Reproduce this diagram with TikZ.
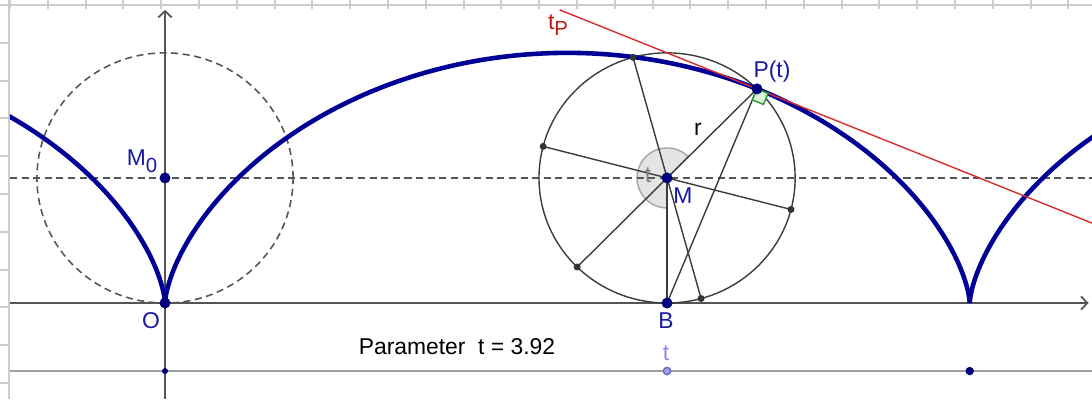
\documentclass[tikz,border=0pt]{standalone}
\usepackage{fontspec}
\setmainfont{Liberation Sans}
\usetikzlibrary{calc,arrows.meta}
\definecolor{framegray}{RGB}{205,205,205}
\definecolor{axisgray}{RGB}{85,85,85}
\definecolor{circgray}{RGB}{60,60,60}
\definecolor{curveblue}{RGB}{0,0,150}
\definecolor{ptblue}{RGB}{0,0,125}
\definecolor{lblblue}{RGB}{25,25,165}
\definecolor{tanred}{RGB}{215,45,45}
\definecolor{lblred}{RGB}{195,25,25}
\definecolor{secfill}{RGB}{228,228,228}
\definecolor{secdraw}{RGB}{165,165,165}
\definecolor{rafill}{RGB}{220,240,220}
\definecolor{radraw}{RGB}{40,150,40}
\definecolor{slidergray}{RGB}{160,160,160}
\definecolor{lavfill}{RGB}{160,160,225}
\definecolor{lavdraw}{RGB}{105,105,200}
\definecolor{lavtext}{RGB}{135,135,240}
\tikzset{
  frameline/.style={draw=framegray, line width=0.6pt},
  axisline/.style={draw=axisgray, line width=0.5pt, -{Straight Barb[length=1.8pt,width=3.8pt]}},
  dashline/.style={draw=axisgray, line width=0.45pt, dash pattern=on 2pt off 1.3pt},
  wheel/.style={draw=circgray, line width=0.4pt},
  curve/.style={draw=curveblue, line width=1.3pt, line join=round},
  tangent/.style={draw=tanred, line width=0.4pt},
  bluept/.style={fill=ptblue},
  spokept/.style={fill=circgray!85!black},
  lbl/.style={text=lblblue, inner sep=0pt},
  plain/.style={inner sep=0pt}
}
\begin{document}
\begin{tikzpicture}[x=0.01cm,y=-0.01cm,font=\fontsize{6.5}{7.8}\selectfont]
\useasboundingbox (0,0) rectangle (1092,399);
% frame rulers
\draw[frameline] (0,5) -- (1092,5);
\draw[frameline] (9,0) -- (9,399);
\foreach \i in {0,...,28} \draw[frameline] ({10+37.8*\i},0) -- ({10+37.8*\i},9);
\foreach \j in {1,...,10} \draw[frameline] (0,{5+37.8*\j}) -- (9,{5+37.8*\j});

\begin{scope}[shift={(165,303)},x=1.28cm,y=1.25cm]
  \pgfmathsetmacro{\tp}{3.92}
  \pgfmathsetmacro{\sn}{sin(\tp r)}
  \pgfmathsetmacro{\px}{\tp - \sn}
  \pgfmathsetmacro{\py}{1 - cos(\tp r)}
  \pgfmathsetmacro{\ang}{atan2(-cos(\tp r), -\sn)}
  \pgfmathsetmacro{\cang}{atan2(-1.25*cos(\tp r), -1.28*\sn)}
  \coordinate (O) at (0,0);
  \coordinate (M0) at (0,1);
  \coordinate (M) at (\tp,1);
  \coordinate (B) at (\tp,0);
  \coordinate (P) at (\px,\py);
  \coordinate (T1) at ({\px-0.9*\py},{\py-0.9*\sn});
  \coordinate (T2) at ({\px+1.53*\py},{\py+1.53*\sn});
  \foreach \k in {0,...,5} \coordinate (S\k) at ($(M)+({\ang+60*\k}:1)$);
  \coordinate (XL) at (-1.211,0);
  \coordinate (XR) at (7.211,0);
  \coordinate (YB) at (0,-0.768);
  \coordinate (YT) at (0,2.344);
  \coordinate (DL) at (-1.211,1);
  \coordinate (DR) at (7.242,1);
  \coordinate (SL) at (-1.211,-0.544);
  \coordinate (SR) at (7.242,-0.544);
  \coordinate (S0pt) at (0,-0.544);
  \coordinate (S2pi) at ({2*pi},-0.544);
  \coordinate (Stp) at (\tp,-0.544);

  % angle sector
  \filldraw[fill=secfill, draw=secdraw, line width=0.4pt] (M) -- ++(\cang:0.3cm) arc[start angle=\cang, end angle=270, radius=0.3cm] -- cycle;

  % dashed line and circle
  \draw[dashline] (DL) -- (DR);
  \draw[dashline] (M0) circle[x radius=1, y radius=1];

  % axes
  \draw[axisline] (XL) -- (XR);
  \draw[axisline] (YB) -- (YT);

  % slider
  \draw[draw=slidergray, line width=0.5pt] (SL) -- (SR);

  % rolling wheel
  \draw[wheel] (M) circle[x radius=1, y radius=1];
  \draw[wheel] (S0) -- (S3);
  \draw[wheel] (S1) -- (S4);
  \draw[wheel] (S2) -- (S5);
  \draw[wheel] (M) -- (B);
  \draw[wheel] (B) -- (P);

  % cycloid
  \begin{scope}
    \clip (-1.211,-0.8) rectangle (7.25,2.45);
    \draw[curve] plot[domain=-2.1:0, samples=120] ({\x - sin(\x r)},{1 - cos(\x r)});
    \draw[curve] plot[domain=0:2*pi, samples=300] ({\x - sin(\x r)},{1 - cos(\x r)});
    \draw[curve] plot[domain=2*pi:8.25, samples=120] ({\x - sin(\x r)},{1 - cos(\x r)});
  \end{scope}

  % tangent
  \draw[tangent] (T1) -- (T2);

  % right angle mark
  \coordinate (RA1) at ($(P)!0.12cm!(B)$);
  \coordinate (RA2) at ($(P)!0.12cm!(T2)$);
  \coordinate (RA3) at ($(RA1)+(RA2)-(P)$);
  \filldraw[fill=rafill, draw=radraw, line width=0.4pt] (P) -- (RA1) -- (RA3) -- (RA2) -- cycle;

  % points
  \foreach \k in {1,...,5} \fill[spokept] (S\k) circle[radius=0.035cm];
  \foreach \q in {O,M0,M,B,P} \fill[bluept] (\q) circle[radius=0.055cm];
  \fill[bluept] (S0pt) circle[radius=0.03cm];
  \fill[bluept] (S2pi) circle[radius=0.042cm];
  \filldraw[fill=lavfill, draw=lavdraw, line width=0.4pt] (Stp) circle[radius=0.037cm];
\end{scope}

% labels
\node[lbl] (lblO) at (151,321) {O};
\node[lbl] (lblM0) at (142,161) {M\raisebox{-0.55ex}{\fontsize{5.8}{6.5}\selectfont 0}};
\node[lbl] (lblM) at (683,196) {M};
\node[lbl] (lblB) at (666,321) {B};
\node[lbl] (lblP) at (772,72) {P(t)};
\node[plain, text=black] (lblr) at (698,129) {r};
\node[plain, text=lblred] (lbltP) at (558,25) {t\raisebox{-0.55ex}{\fontsize{5.8}{6.5}\selectfont P}};
\node[plain, text=gray] (lblt) at (648,175) {t};
\node[plain, text=black] (lblpar) at (457,347) {Parameter\ \ t = 3.92};
\node[plain, text=lavtext] (lblslider) at (666,353) {t};
\end{tikzpicture}
\end{document}
